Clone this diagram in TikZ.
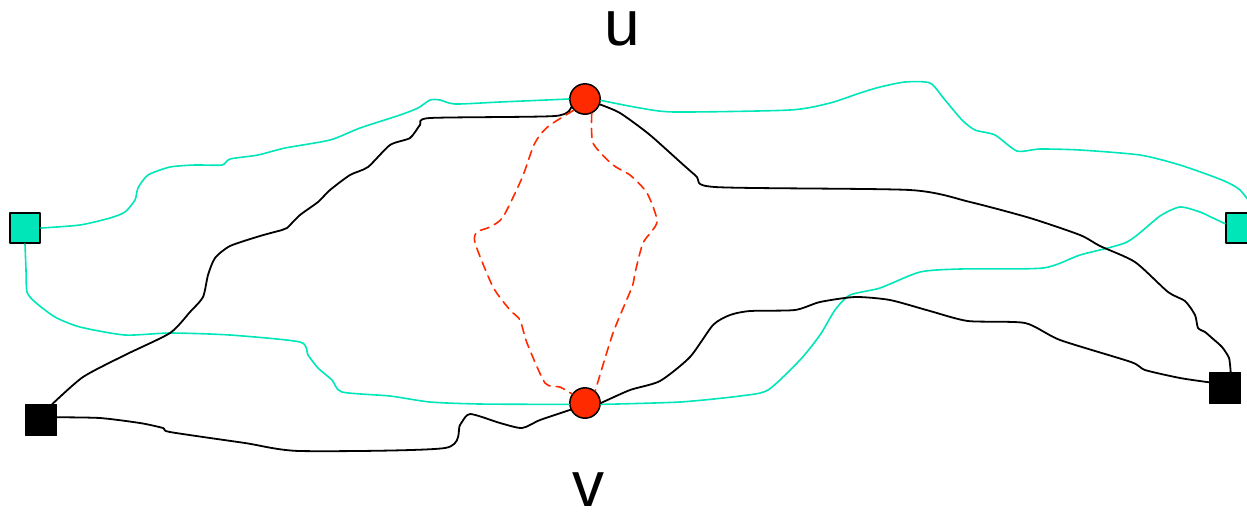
\documentclass[tikz,border=0pt]{standalone}
\usepackage{fontspec}
\setmainfont{Liberation Sans}
\definecolor{cteal}{HTML}{00E6B8}
\definecolor{cred}{HTML}{FF2A00}

\begin{document}
\begin{tikzpicture}[x=0.5pt, y=-0.5pt, line cap=round, line join=round,
  vtx/.style={circle, draw, line width=0.75pt, fill=cred, minimum size=15.2pt, inner sep=0pt},
  tsq/.style={rectangle, draw, line width=0.75pt, fill=cteal, minimum size=15.2pt, inner sep=0pt},
  bsq/.style={rectangle, draw, fill=black, minimum size=15.2pt, inner sep=0pt},
  tline/.style={cteal, line width=0.8pt},
  bline/.style={black, line width=0.9pt},
  rdash/.style={cred, line width=0.8pt, dash pattern=on 4.5pt off 3pt},
  lbl/.style={font=\fontsize{32}{38}\selectfont, anchor=base, inner sep=0pt,
    text height=1ex, text depth=0pt}]
  \useasboundingbox (0,0) rectangle (1247,511);
  \clip (0,0) rectangle (1247,511);
  \def\tn{0.4}

  % ---------- vertices and terminals ----------
  \node[vtx] (u) at (585,99) {};
  \node[vtx] (v) at (585,403) {};
  \node[tsq] (sqL) at (25,228) {};
  \node[tsq] (sqR) at (1241,228) {};
  \node[bsq] (blkL) at (41,420) {};
  \node[bsq] (blkR) at (1225,388) {};
  \node[lbl] (lblu) at (622,45) {u};
  \node[lbl] (lblv) at (588,506) {v};

  % ---------- teal paths ----------
  \draw[tline] plot[smooth, tension=\tn] coordinates {(sqL.east) (80,225) (110,218) (125,212)
    (135,200) (138,188) (148,175) (170,167) (195,165) (222,165) (230,159) (258,155) (285,148)
    (330,140) (360,128) (400,115) (418,108) (430,100) (440,100) (455,104) (500,102) (u.west)};
  \draw[tline] plot[smooth, tension=\tn] coordinates {(u.355) (640,108) (675,112) (790,110)
    (830,103) (860,93) (880,87) (905,82) (930,83) (945,100) (962,120) (975,130) (995,135)
    (1017,151) (1040,149) (1080,150) (1140,155) (1180,165) (1222,180) (1240,190) (sqR.north east)};
  \draw[tline] plot[smooth, tension=\tn] coordinates {(sqL.south) (26,270) (27,292) (35,302)
    (55,317) (80,327) (125,335) (170,333) (230,335) (300,342) (308,355) (318,368) (332,380)
    (342,392) (390,396) (430,402) (480,404) (v.185)};
  \draw[tline] plot[smooth, tension=\tn] coordinates {(v.355) (680,402) (740,396) (768,390)
    (800,360) (820,335) (835,310) (850,295) (880,288) (920,272) (960,269) (1043,268)
    (1080,255) (1127,242) (1160,216) (1180,207) (1200,212) (1213,218) (sqR.165)};

  % ---------- black paths ----------
  \draw[bline] plot[smooth, tension=\tn] coordinates {(u.210) (555,116) (430,118) (420,125)
    (410,138) (390,145) (368,167) (350,175) (330,190) (318,202) (300,215) (287,228) (282,230)
    (260,236) (230,246) (215,258) (208,275) (203,297) (190,312) (170,333) (125,355) (83,377)
    (blkL.55)};
  \draw[bline] plot[smooth, tension=\tn] coordinates {(v.205) (540,420) (522,428) (500,423)
    (470,414) (460,425) (445,448) (300,451) (245,443) (170,432) (163,428) (140,423) (100,418)
    (blkL.10)};
  \draw[bline] plot[smooth, tension=\tn] coordinates {(u.340) (620,113) (650,135) (695,175)
    (715,187) (910,190) (970,202) (1030,218) (1080,235) (1100,246) (1135,262) (1168,292)
    (1185,301) (1195,315) (1198,328) (1205,332) (1212,338) (1222,347) (1229,358) (blkR.70)};
  \draw[bline] plot[smooth, tension=\tn] coordinates {(v.0) (630,390) (660,381) (690,357)
    (713,325) (730,315) (750,311) (795,310) (820,302) (855,297) (890,300) (930,311) (968,321)
    (1025,323) (1060,340) (1131,362) (1145,370) (1180,378) (blkR.160)};

  % ---------- red dashed cycle ----------
  \draw[rdash] plot[smooth, tension=\tn] coordinates {(u.225) (550,125) (540,135) (533,147)
    (522,178) (503,217) (490,227) (477,232) (475,243) (493,287) (510,310) (520,320) (527,343)
    (545,383) (560,387) (v.145)};
  \draw[rdash] plot[smooth, tension=\tn] coordinates {(u.295) (593,143) (613,165) (630,175)
    (647,193) (657,222) (643,243) (635,273) (632,287) (613,333) (v.50)};
\end{tikzpicture}
\end{document}
